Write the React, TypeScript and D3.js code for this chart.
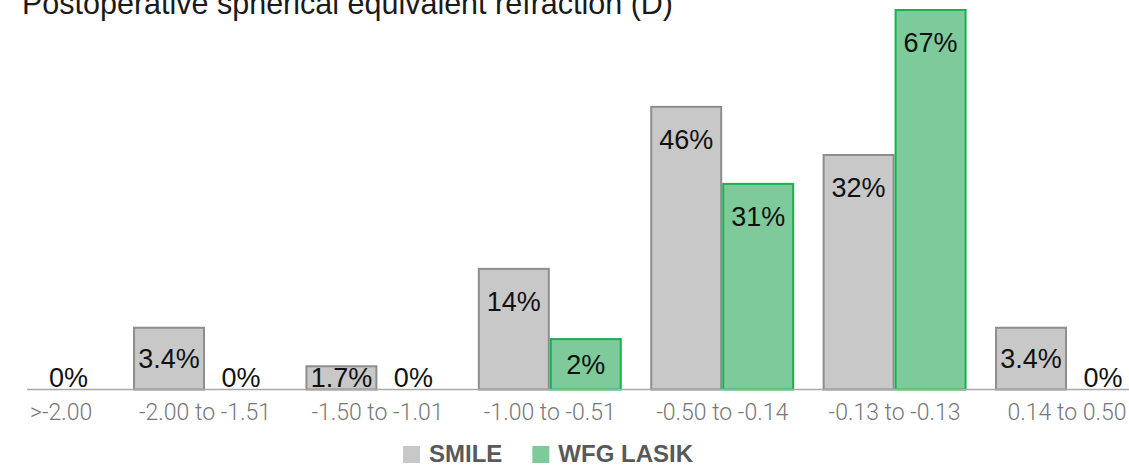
import React, { useRef, useEffect } from "react";
import * as d3 from "d3";

// refraction ranges (D)
const categories = [">-2.00", "-2.00 to -1.51", "-1.50 to -1.01", "-1.00 to -0.51", "-0.50 to -0.14", "-0.13 to -0.13", "0.14 to 0.50"];
const seriesNames = ["SMILE", "WFG LASIK"];

// bar heights as drawn in the picture (chart units, top bar = 67)
const smileHeights = [0, 10.9, 4.1, 21.3, 49.9, 41.4, 10.9];
const lasikHeights = [0, 0, 0, 8.9, 36.3, 67, 0];

// printed labels
const smileLabels = ["0%", "3.4%", "1.7%", "14%", "46%", "32%", "3.4%"];
const lasikLabels = ["0%", "0%", "0%", "2%", "31%", "67%", "0%"];

const title = "Postoperative spherical equivalent refraction (D)";

const App = () => {
  const ref = useRef<SVGSVGElement>(null);

  useEffect(() => {
    const width = 1129;
    const height = 465;
    const baseY = 389.5;
    const topY = 10;
    const axisLeft = 27;

    const fills = ["#c8c8c8", "#7fca9b"];
    const strokes = ["#8e8e8e", "#16b24e"];

    const svg = d3.select(ref.current).attr("width", width).attr("height", height);
    svg.selectAll("*").remove();

    // the chart is cropped on the left, so the band range starts off-screen
    const x = d3.scaleBand()
      .domain(categories)
      .range([-53.6, 1153.2])
      .paddingInner(0.165)
      .paddingOuter(0.0825);

    const x1 = d3.scaleBand()
      .domain(seriesNames)
      .range([0, x.bandwidth()]);

    const y = d3.scaleLinear()
      .domain([0, 67])
      .range([baseY, topY]);

    // title (cut off at the top)
    svg.append("text")
      .attr("x", 22)
      .attr("y", 14)
      .attr("font-family", "Liberation Sans, Arial, sans-serif")
      .attr("font-size", 30.5)
      .attr("fill", "#1a1a1a")
      .text(title);

    const rows = categories.map((c, i) => ({
      cat: c,
      bars: [
        { s: seriesNames[0], v: smileHeights[i], label: smileLabels[i], k: 0 },
        { s: seriesNames[1], v: lasikHeights[i], label: lasikLabels[i], k: 1 },
      ],
    }));

    const groups = svg.selectAll("g.cat")
      .data(rows)
      .enter()
      .append("g")
      .attr("class", "cat")
      .attr("transform", d => `translate(${x(d.cat)},0)`);

    groups.selectAll("rect")
      .data(d => d.bars.filter(b => b.v > 0))
      .enter()
      .append("rect")
      .attr("x", d => x1(d.s)! + 1)
      .attr("y", d => y(d.v))
      .attr("width", x1.bandwidth() - 2)
      .attr("height", d => baseY - y(d.v))
      .attr("fill", d => fills[d.k])
      .attr("stroke", d => strokes[d.k])
      .attr("stroke-width", 2);

    // axis line
    svg.append("line")
      .attr("x1", axisLeft)
      .attr("x2", width)
      .attr("y1", baseY)
      .attr("y2", baseY)
      .attr("stroke", "#a8a8a8")
      .attr("stroke-width", 1.5);

    // value labels: near top of big bars, centred in small ones
    // (labels whose bar lies left of the cropped edge are not shown)
    groups.selectAll("text.val")
      .data(d => d.bars.filter(b => x(d.cat)! + x1(b.s)! + x1.bandwidth() / 2 > axisLeft))
      .enter()
      .append("text")
      .attr("class", "val")
      .attr("x", d => x1(d.s)! + x1.bandwidth() / 2)
      .attr("y", d => {
        const top = y(d.v);
        return Math.min(top + 42, (top + baseY) / 2 + 9.5, 387);
      })
      .attr("text-anchor", "middle")
      .attr("font-family", "Liberation Sans, Arial, sans-serif")
      .attr("font-size", 27)
      .attr("fill", "#111")
      .text(d => d.label);

    // category labels
    const ticks = svg.append("g");
    ticks.selectAll("text")
      .data(categories)
      .enter()
      .append("text")
      .attr("x", d => x(d)! + x.bandwidth() / 2)
      .attr("y", 420)
      .attr("text-anchor", "middle")
      .attr("font-family", "Roboto, Liberation Sans, Arial, sans-serif")
      .attr("font-weight", 300)
      .attr("font-size", 23)
      .attr("fill", "#777")
      .text(d => d)
      .each(function () {
        const el = this as SVGTextElement;
        const w = el.getComputedTextLength();
        const cx = +el.getAttribute("x")!;
        if (cx - w / 2 < axisLeft + 3) el.setAttribute("x", String(axisLeft + 3 + w / 2));
      });

    // legend
    const legend = svg.append("g");
    let lx = 403;
    seriesNames.forEach((name, i) => {
      legend.append("rect")
        .attr("x", lx)
        .attr("y", 446)
        .attr("width", 17)
        .attr("height", 17)
        .attr("fill", fills[i]);
      const t = legend.append("text")
        .attr("x", lx + 26)
        .attr("y", 462)
        .attr("font-family", "Liberation Sans, Arial, sans-serif")
        .attr("font-weight", "bold")
        .attr("font-size", 24)
        .attr("fill", "#595959")
        .text(name);
      lx += 26 + (t.node() as SVGTextElement).getComputedTextLength() + 30;
    });
  }, []);

  return (
    <svg ref={ref} style={{ position: "absolute", left: 0, top: 0 }} />
  );
};

export default App;
